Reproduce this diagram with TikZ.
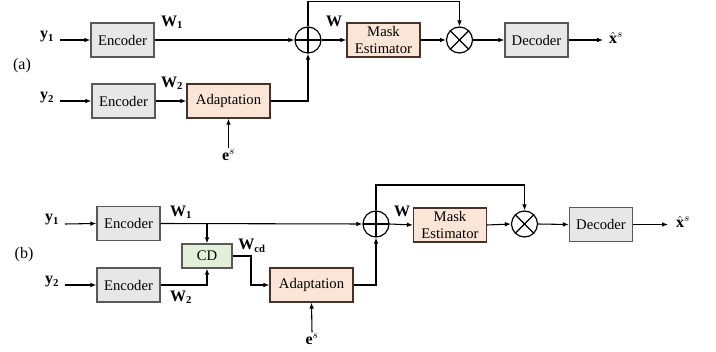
\documentclass[tikz,border=0pt]{standalone}
\usepackage{fontspec}
\setmainfont{Liberation Serif}
\usetikzlibrary{arrows.meta}
\definecolor{encfill}{RGB}{231,231,231}
\definecolor{encline}{RGB}{89,89,89}
\definecolor{adpfill}{RGB}{251,229,214}
\definecolor{adpline}{RGB}{70,50,40}
\definecolor{cdfill}{RGB}{226,240,217}
\tikzset{
  blk/.style={draw=encline, line width=1pt, minimum height=25.5pt, inner sep=0pt, font=\fontsize{11}{13}\selectfont, align=center},
  encbox/.style={blk, fill=encfill, minimum width=47.25pt},
  adpbox/.style={blk, fill=adpfill, draw=adpline, minimum width=62.25pt},
  maskbox/.style={blk, fill=adpfill, draw=adpline, minimum width=54.75pt},
  cdbox/.style={blk, fill=cdfill, minimum width=37.5pt, minimum height=18pt},
  opnode/.style={circle, draw, line width=0.9pt, minimum size=19.5pt, inner sep=0pt},
  sumnode/.style={opnode, path picture={\draw[line width=0.9pt] (path picture bounding box.north) -- (path picture bounding box.south) (path picture bounding box.west) -- (path picture bounding box.east);}},
  mulnode/.style={opnode, path picture={\draw[line width=0.9pt] (path picture bounding box.north west) -- (path picture bounding box.south east) (path picture bounding box.south west) -- (path picture bounding box.north east);}},
  lbl/.style={inner sep=0.75pt, font=\fontsize{12}{14}\selectfont},
  sig/.style={line width=0.8pt, -{Latex[length=4.5pt,width=3.5pt]}},
  wire/.style={line width=0.8pt},
}
\begin{document}
\begin{tikzpicture}[x=0.75pt,y=0.75pt,yscale=-1,xscale=1]
\useasboundingbox (0,0) rectangle (716,352);

%(a)
\node (enc1a) at (122.5,40) [encbox] {Encoder};
\node (enc2a) at (123.5,101) [encbox] {Encoder};
\node (adpa) at (228.5,101) [adpbox] {Adaptation};
\node (suma) at (308,40) [sumnode] {};
\node (maska) at (383.5,40) [maskbox] {Mask\\Estimator};
\node (mula) at (459.5,40) [mulnode] {};
\node (deca) at (536.5,40) [encbox] {Decoder};
\coordinate (topa) at (383.5,1.5);

% Text Node
\node (y1a) at (47,37) [lbl, anchor=center] {$\mathbf{y}_{\mathbf{1}}$};
\node (y2a) at (47,98) [lbl] {$\mathbf{y}_{\mathbf{2}}$};
\node (w1a) at (172,22) [lbl] {$\mathbf{W}_{\mathbf{1}}$};
\node (w2a) at (172,83) [lbl] {$\mathbf{W}_{\mathbf{2}}$};
\node (wa) at (334,21) [lbl] {$\mathbf{W}$};
\node (esa) at (228.5,155) [lbl] {$\mathbf{e}^{s}$};
\node (xa) at (616,38) [lbl] {$\hat{\mathbf{x}}^{s}$};
\node (taga) at (22,66) [lbl] {(a)};

\draw [sig] (60,40) -- (enc1a.west);
\draw [sig] (60,101) -- (enc2a.west);
\draw [sig] (enc1a.east) -- (suma.west);
\draw [sig] (enc2a.east) -- (adpa.west);
\draw [sig] (adpa.east) -| (suma.south);
\draw [sig] (esa.north) -- (adpa.south);
\draw [sig] (suma.east) -- (maska.west);
\draw [sig] (maska.east) -- (mula.west);
\draw [sig] (suma.north) |- (topa) -| (mula.north);
\draw [sig] (mula.east) -- (deca.west);
\draw [sig] (deca.east) -- (603,40);

%(b)
\node (enc1b) at (128.5,223.5) [encbox] {Encoder};
\node (enc2b) at (128.5,285) [encbox] {Encoder};
\node (cdb) at (207,256) [cdbox] {CD};
\node (adpb) at (311.5,285) [adpbox] {Adaptation};
\node (sumb) at (376,224) [sumnode] {};
\node (maskb) at (450,225) [maskbox] {Mask\\Estimator};
\node (mulb) at (524.5,224) [mulnode] {};
\node (decb) at (601,224.5) [encbox] {Decoder};
\coordinate (splitb) at (207,224);
\coordinate (cdturn) at (251,256);
\coordinate (topb) at (450,185);

% Text Node
\node (y1b) at (52,220) [lbl] {$\mathbf{y}_{\mathbf{1}}$};
\node (y2b) at (52,282) [lbl] {$\mathbf{y}_{\mathbf{2}}$};
\node (w1b) at (181,212) [lbl] {$\mathbf{W}_{\mathbf{1}}$};
\node (w2b) at (181,297) [lbl] {$\mathbf{W}_{\mathbf{2}}$};
\node (wcdb) at (252,246) [lbl] {$\mathbf{W}_{\mathbf{cd}}$};
\node (wb) at (402,211) [lbl] {$\mathbf{W}$};
\node (esb) at (312,339) [lbl] {$\mathbf{e}^{s}$};
\node (xb) at (683,222) [lbl] {$\hat{\mathbf{x}}^{s}$};
\node (tagb) at (24,255) [lbl] {(b)};

\draw [sig] (65,224) -- (enc1b.west);
\draw [sig] (65,285) -- (enc2b.west);
\draw [sig] (enc1b.east) -- (sumb.west);
\draw [sig] (splitb) -- (cdb.north);
\draw [sig] (enc2b.east) -| (cdb.south);
\draw [sig] (cdb.east) -- (cdturn) |- (adpb.west);
\draw [sig] (esb.north) -- (adpb.south);
\draw [sig] (adpb.east) -| (sumb.south);
\draw [sig] (sumb.east) -- (maskb.west);
\draw [sig] (maskb.east) -- (mulb.west);
\draw [sig] (sumb.north) |- (topb) -| (mulb.north);
\draw [sig] (mulb.east) -- (decb.west);
\draw [sig] (decb.east) -- (668,224.5);

\end{tikzpicture}
\end{document}
